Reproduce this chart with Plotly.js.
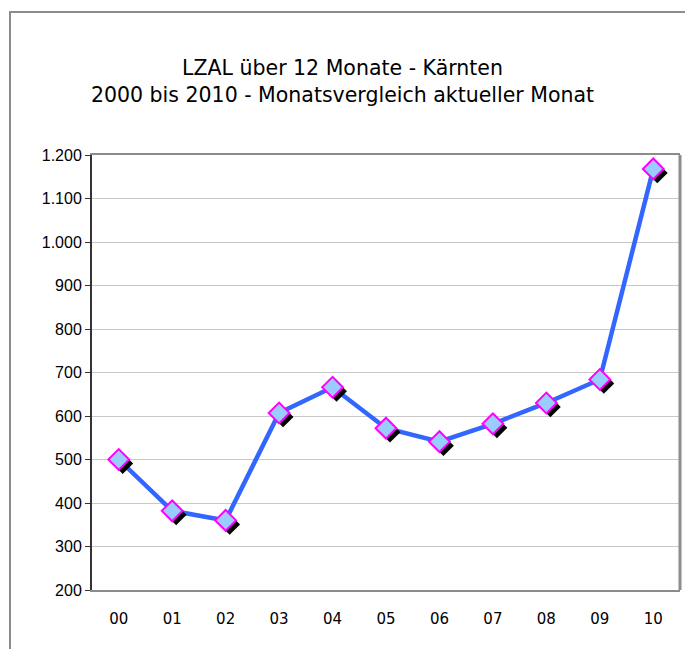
<!DOCTYPE html>
<html>
<head>
<meta charset="utf-8">
<script src="https://cdn.plot.ly/plotly-3.0.1.min.js"></script>
<style>
  html, body { margin: 0; padding: 0; background: #fff; }
  #wrap { position: relative; width: 685px; height: 649px; overflow: hidden; }
  #frame { position: absolute; left: 9px; top: 11px; width: 700px; height: 700px;
           border-left: 2px solid #8c8c8c; border-top: 2px solid #8c8c8c; pointer-events: none; }
  #chart { position: absolute; left: 0; top: 0; width: 685px; height: 649px; }
</style>
</head>
<body>
<div id="wrap">
  <div id="chart"></div>
  <div id="frame"></div>
</div>
<script>
const categories = ["00", "01", "02", "03", "04", "05", "06", "07", "08", "09", "10"];
const values = [500, 382, 360, 607, 666, 572, 541, 582, 630, 684, 1168];
const titleText = "LZAL über 12 Monate - Kärnten<br>2000 bis 2010 - Monatsvergleich aktueller Monat";
const yTicks = [200, 300, 400, 500, 600, 700, 800, 900, 1000, 1100, 1200];

const idx = categories.map((c, i) => i);
const yMin = 200, yMax = 1200;
const xRange = [-0.5, categories.length - 0.5];
// shadow offset in pixels, converted through the axis scales
const plotW = 588, plotH = 435, shadowPx = 4;
const dx = shadowPx * (xRange[1] - xRange[0]) / plotW;
const dy = shadowPx * (yMax - yMin) / plotH;

const lineTrace = {
  x: idx, y: values, type: "scatter", mode: "lines",
  line: { color: "#3366FF", width: 4.5 }, hoverinfo: "skip", xaxis: "x", yaxis: "y"
};
const shadowTrace = {
  x: idx, y: values, type: "scatter", mode: "markers",
  marker: { symbol: "diamond", size: 16, color: "#000000", line: { width: 0 } },
  xaxis: "x2", yaxis: "y2", hoverinfo: "skip"
};
const markerTrace = {
  x: idx, y: values, type: "scatter", mode: "markers",
  marker: { symbol: "diamond", size: 16, color: "#99CCFF", line: { color: "#FF00FF", width: 2 } },
  xaxis: "x3", yaxis: "y3"
};

const hidden = { visible: false, showgrid: false, zeroline: false, fixedrange: true };

const layout = {
  width: 685, height: 649,
  margin: { l: 92, r: 5, t: 155, b: 59 },
  paper_bgcolor: "#ffffff", plot_bgcolor: "#ffffff",
  separators: ",.",
  showlegend: false,
  title: {
    text: titleText,
    font: { family: "DejaVu Sans", size: 20.5, color: "#000000" },
    x: 0.5, xanchor: "center", xref: "container",
    y: 1 - 75 / 649, yanchor: "middle", yref: "container"
  },
  xaxis: {
    range: xRange, tickmode: "array", tickvals: idx, ticktext: categories,
    showgrid: false, zeroline: false,
    showline: true, linecolor: "#8c8c8c", linewidth: 2, mirror: true,
    ticks: "outside", ticklen: 14, tickcolor: "rgba(0,0,0,0)",
    tickfont: { family: "DejaVu Sans", size: 15, color: "#000000" }
  },
  yaxis: {
    range: [yMin, yMax], tickmode: "array", tickvals: yTicks, tickformat: ",d",
    showgrid: true, gridcolor: "#c8c8c8", gridwidth: 1, zeroline: false,
    showline: true, linecolor: "#333333", linewidth: 2,
    ticks: "outside", ticklen: 5, tickcolor: "#333333", tickwidth: 1,
    tickfont: { family: "Arial", size: 16, color: "#000000" }
  },
  xaxis2: Object.assign({ overlaying: "x", range: [xRange[0] - dx, xRange[1] - dx] }, hidden),
  yaxis2: Object.assign({ overlaying: "y", range: [yMin + dy, yMax + dy] }, hidden),
  xaxis3: Object.assign({ overlaying: "x", range: xRange }, hidden),
  yaxis3: Object.assign({ overlaying: "y", range: [yMin, yMax] }, hidden),
  shapes: [{
    type: "line", xref: "paper", yref: "paper", x0: 1, x1: 1, y0: 0, y1: 1,
    line: { color: "#8c8c8c", width: 3 }, layer: "above"
  }]
};

Plotly.newPlot("chart", [lineTrace, shadowTrace, markerTrace], layout, { displayModeBar: false, staticPlot: true });
</script>
</body>
</html>
